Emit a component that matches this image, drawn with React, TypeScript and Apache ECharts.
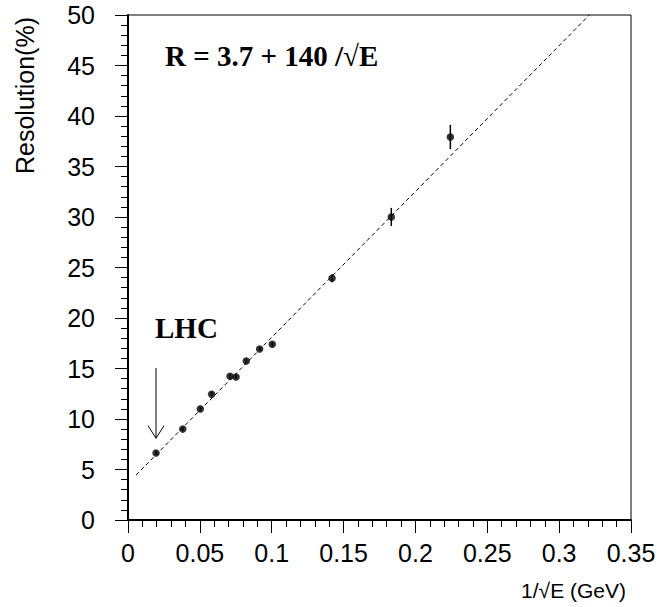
import React, { useEffect, useRef } from "react";
import * as echarts from "echarts";

const invSqrtE = [0.0195, 0.0381, 0.0503, 0.0582, 0.071, 0.0752, 0.0823, 0.0916, 0.1004, 0.142, 0.1832, 0.2243];
const resolution = [6.63, 9.0, 11.0, 12.45, 14.23, 14.16, 15.75, 16.93, 17.4, 23.93, 30.0, 37.92];
const resolutionErr = [0.2, 0.2, 0.2, 0.2, 0.2, 0.2, 0.2, 0.2, 0.2, 0.4, 0.9, 1.2];
const fitLine = [[0.0056, 4.45], [0.321, 50]];
const arrowShaft = [[0.0195, 15.05], [0.0195, 8.1]];
const arrowHead = [[0.0139, 9.34], [0.0195, 8.1], [0.0251, 9.34]];
const xTicks = { min: 0, max: 0.35, interval: 0.05 };
const yTicks = { min: 0, max: 50, interval: 5 };

export default function App() {
  const ref = useRef<HTMLDivElement>(null);
  useEffect(() => {
    document.body.style.margin = "0";
    const chart = echarts.init(ref.current!, null, { renderer: "svg" });
    const axisFont = { fontFamily: "Liberation Sans", fontSize: 25, color: "#000" };
    chart.setOption({
      animation: false,
      backgroundColor: "#fff",
      grid: { left: 128, top: 15, width: 503, height: 505, show: true, borderColor: "#000", borderWidth: 1 },
      xAxis: {
        type: "value",
        min: xTicks.min,
        max: xTicks.max,
        interval: xTicks.interval,
        axisLine: { show: true, lineStyle: { color: "#000", width: 2 } },
        axisTick: { show: true, inside: false, length: 13, lineStyle: { color: "#000", width: 1 } },
        minorTick: { show: true, splitNumber: 5, length: 7, lineStyle: { color: "#000", width: 1 } },
        splitLine: { show: false },
        axisLabel: {
          ...axisFont,
          margin: 20,
          formatter: (v: number) => String(+v.toFixed(2)),
        },
      },
      yAxis: {
        type: "value",
        min: yTicks.min,
        max: yTicks.max,
        interval: yTicks.interval,
        axisLine: { show: true, lineStyle: { color: "#000", width: 2 } },
        axisTick: { show: true, inside: false, length: 13, lineStyle: { color: "#000", width: 1 } },
        minorTick: { show: true, splitNumber: 5, length: 7, lineStyle: { color: "#000", width: 1 } },
        splitLine: { show: false },
        axisLabel: { ...axisFont, margin: 33 },
      },
      series: [
        {
          type: "line",
          data: fitLine,
          showSymbol: false,
          lineStyle: { color: "#000", width: 1, type: [4, 3] },
          z: 2,
        },
        {
          type: "custom",
          data: invSqrtE.map((x, i) => [x, resolution[i], resolutionErr[i]]),
          renderItem: (params: any, api: any) => {
            const x = api.value(0);
            const y = api.value(1);
            const e = api.value(2);
            const p1 = api.coord([x, y - e]);
            const p2 = api.coord([x, y + e]);
            return {
              type: "line",
              shape: { x1: p1[0], y1: p1[1], x2: p2[0], y2: p2[1] },
              style: { stroke: "#000", lineWidth: 1.5 },
            };
          },
          z: 3,
        },
        {
          type: "scatter",
          data: invSqrtE.map((x, i) => [x, resolution[i]]),
          symbol: "circle",
          symbolSize: 7.5,
          itemStyle: { color: "#000" },
          z: 4,
        },
        {
          type: "line",
          data: arrowShaft,
          showSymbol: false,
          lineStyle: { color: "#000", width: 1 },
        },
        {
          type: "line",
          data: arrowHead,
          showSymbol: false,
          lineStyle: { color: "#000", width: 1 },
        },
      ],
      graphic: [
        {
          type: "text",
          x: 165,
          y: 56,
          style: {
            text: "R = 3.7 + 140 /\u221AE",
            font: "bold 29px 'Liberation Serif'",
            fill: "#000",
            textAlign: "left",
            textVerticalAlign: "middle",
          },
        },
        {
          type: "text",
          x: 155,
          y: 328,
          style: {
            text: "LHC",
            font: "bold 29px 'Liberation Serif'",
            fill: "#000",
            textAlign: "left",
            textVerticalAlign: "middle",
          },
        },
        {
          type: "text",
          x: 25,
          y: 17,
          rotation: Math.PI / 2,
          style: {
            text: "Resolution(%)",
            font: "25px 'Liberation Sans'",
            fill: "#000",
            textAlign: "right",
            textVerticalAlign: "middle",
          },
        },
        {
          type: "text",
          x: 626,
          y: 590,
          style: {
            text: "1/\u221AE (GeV)",
            font: "21px 'Liberation Sans'",
            fill: "#000",
            textAlign: "right",
            textVerticalAlign: "middle",
          },
        },
      ],
    });
    return () => chart.dispose();
  }, []);
  return <div ref={ref} style={{ width: 661, height: 607 }} />;
}
